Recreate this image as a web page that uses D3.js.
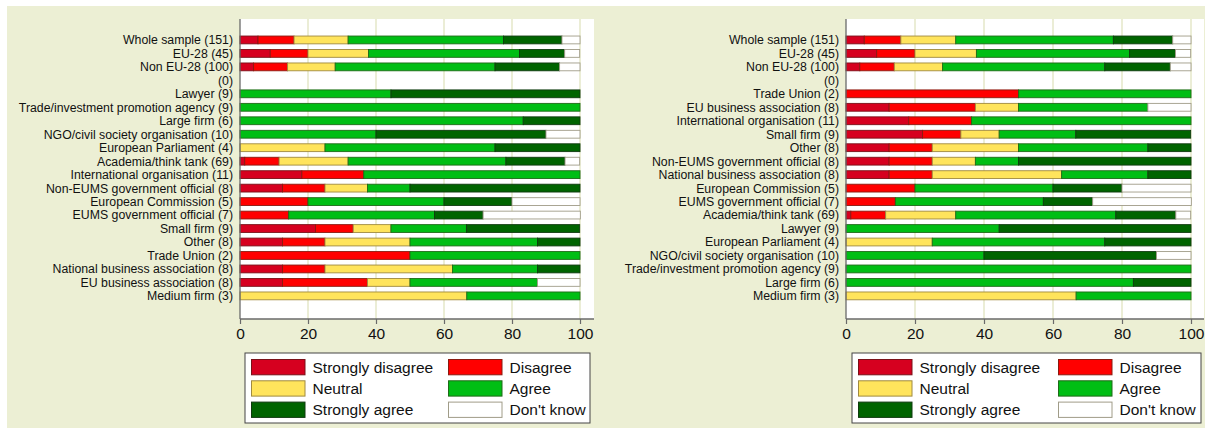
<!DOCTYPE html>
<html>
<head>
<meta charset="utf-8">
<script src="https://cdn.jsdelivr.net/npm/d3@7"></script>
<style>
  html, body { margin: 0; padding: 0; background: #ffffff; }
  svg { display: block; font-family: "Liberation Sans", Arial, Helvetica, sans-serif; }
</style>
</head>
<body>
<svg id="chart" width="1210" height="433"></svg>
<script>
// ---- Data (percent of respondents) ----
const categories = [
  "Whole sample (151)", "EU-28 (45)", "Non EU-28 (100)", "(0)",
  "Lawyer (9)", "Trade/investment promotion agency (9)", "Large firm (6)",
  "NGO/civil society organisation (10)", "European Parliament (4)",
  "Academia/think tank (69)", "International organisation (11)",
  "Non-EUMS government official (8)", "European Commission (5)",
  "EUMS government official (7)", "Small firm (9)", "Other (8)",
  "Trade Union (2)", "National business association (8)",
  "EU business association (8)", "Medium firm (3)"
];
const stronglyDisagree = [5.3, 8.9, 4, 0, 0, 0, 0, 0, 0, 1.4, 18.2, 12.5, 0, 0, 22.2, 12.5, 0, 12.5, 12.5, 0];
const disagree         = [10.6, 11.1, 10, 0, 0, 0, 0, 0, 0, 10.1, 18.2, 12.5, 20, 14.3, 11.1, 12.5, 50, 12.5, 25, 0];
const neutral          = [15.9, 17.8, 14, 0, 0, 0, 0, 0, 25, 20.3, 0, 12.5, 0, 0, 11.1, 25, 0, 37.5, 12.5, 66.7];
const agree            = [45.7, 44.4, 47, 0, 44.4, 100, 83.3, 40, 50, 46.4, 63.6, 12.5, 40, 42.9, 22.2, 37.5, 50, 25, 37.5, 33.3];
const stronglyAgree    = [17.2, 13.3, 19, 0, 55.6, 0, 16.7, 50, 25, 17.4, 0, 50, 20, 14.3, 33.3, 12.5, 0, 12.5, 0, 0];
const dontKnow         = [5.3, 4.4, 6, 0, 0, 0, 0, 10, 0, 4.3, 0, 0, 20, 28.6, 0, 0, 0, 0, 12.5, 0];

// Order of rows in the right-hand panel
const rightOrder = [
  "Whole sample (151)", "EU-28 (45)", "Non EU-28 (100)", "(0)",
  "Trade Union (2)", "EU business association (8)", "International organisation (11)",
  "Small firm (9)", "Other (8)", "Non-EUMS government official (8)",
  "National business association (8)", "European Commission (5)",
  "EUMS government official (7)", "Academia/think tank (69)", "Lawyer (9)",
  "European Parliament (4)", "NGO/civil society organisation (10)",
  "Trade/investment promotion agency (9)", "Large firm (6)", "Medium firm (3)"
];

const seriesNames = ["Strongly disagree", "Disagree", "Neutral", "Agree", "Strongly agree", "Don't know"];
const seriesKeys  = ["sd", "d", "n", "a", "sa", "dk"];
const seriesColors = ["#D6001F", "#FF0000", "#FFE45C", "#00BE14", "#006400", "#FFFFFF"];
const seriesStrokes = ["#7a1018", "#8a1a10", "#a08a40", "#1f6a18", "#0f3a0f", "#a09c88"];
const xTicks = [0, 20, 40, 60, 80, 100];

// ---- Build table ----
const table = categories.map((c, i) => ({
  cat: c,
  sd: stronglyDisagree[i], d: disagree[i], n: neutral[i],
  a: agree[i], sa: stronglyAgree[i], dk: dontKnow[i]
}));
const stacked = d3.stack().keys(seriesKeys)(table);

const svg = d3.select("#chart");
const BG = "#ECEFD4";
const GRID = "#E6E9CC";
const AXIS = "#6a6a6a";

// outer beige background
svg.append("rect").attr("x", 7).attr("y", 6).attr("width", 1198).attr("height", 422).attr("fill", BG);

function panel(order, opt) {
  const g = svg.append("g");
  const x = d3.scaleLinear().domain([0, 100]).range([opt.x0, opt.x100]);
  const y = d3.scaleBand().domain(order).range([19, 319])
    .paddingInner(0.42).paddingOuter(1.345).align(0.47);

  // plot region
  g.append("rect").attr("x", opt.x0).attr("y", 19)
    .attr("width", opt.plotRight - opt.x0).attr("height", 300).attr("fill", "#ffffff");

  // grid lines
  g.append("g").selectAll("line").data(xTicks.slice(1)).join("line")
    .attr("x1", d => x(d)).attr("x2", d => x(d))
    .attr("y1", 19).attr("y2", 319)
    .attr("stroke", GRID).attr("stroke-width", 1.6);

  // bars
  stacked.forEach((layer, si) => {
    g.append("g").selectAll("rect")
      .data(layer.filter(d => d[1] - d[0] > 0))
      .join("rect")
      .attr("x", d => x(d[0]))
      .attr("y", d => y(d.data.cat))
      .attr("width", d => x(d[1]) - x(d[0]))
      .attr("height", y.bandwidth())
      .attr("fill", seriesColors[si])
      .attr("stroke", seriesStrokes[si])
      .attr("stroke-width", 0.9);
  });

  // category labels
  g.append("g").selectAll("text").data(order).join("text")
    .attr("x", opt.x0 - 7)
    .attr("y", d => y(d) + y.bandwidth() / 2)
    .attr("dy", "0.36em")
    .attr("text-anchor", "end")
    .attr("font-size", 12.3)
    .attr("fill", "#111")
    .text(d => d);

  // x axis
  const ax = g.append("g").attr("transform", `translate(0,319)`)
    .call(d3.axisBottom(x).tickValues(xTicks).tickSize(5).tickPadding(4).tickFormat(d3.format("d")));
  ax.select(".domain").attr("stroke", AXIS).attr("stroke-width", 1.3)
    .attr("d", `M${opt.x0},0H${opt.plotRight}`);
  ax.selectAll(".tick line").attr("stroke", AXIS).attr("stroke-width", 1.2);
  ax.selectAll(".tick text").attr("font-size", 15.5).attr("fill", "#111")
    .attr("font-family", "'Liberation Sans', Arial, sans-serif");

  // y axis line
  g.append("line").attr("x1", opt.x0).attr("x2", opt.x0).attr("y1", 19).attr("y2", 319)
    .attr("stroke", AXIS).attr("stroke-width", 1.3);

  // legend
  const lg = g.append("g").attr("transform", `translate(${opt.lx},353)`);
  lg.append("rect").attr("x", 0).attr("y", 0).attr("width", opt.lw).attr("height", 70)
    .attr("fill", "#fff").attr("stroke", "#444").attr("stroke-width", 1);
  seriesNames.forEach((name, i) => {
    const col = i % 2, row = Math.floor(i / 2);
    const sx = 6.5 + col * opt.colStep, sy = 6.5 + row * 21.3;
    lg.append("rect").attr("x", sx).attr("y", sy).attr("width", 53.5).attr("height", 15.3)
      .attr("fill", seriesColors[i]).attr("stroke", seriesStrokes[i]).attr("stroke-width", 1);
    lg.append("text").attr("x", sx + 61).attr("y", sy + 7.7).attr("dy", "0.36em")
      .attr("font-size", 15.5).attr("fill", "#111").text(name);
  });
}

panel(categories, { x0: 240, x100: 580, plotRight: 594, lx: 245, lw: 345, colStep: 197 });
panel(rightOrder, { x0: 846, x100: 1191, plotRight: 1204, lx: 852, lw: 349, colStep: 200 });
</script>
</body>
</html>
